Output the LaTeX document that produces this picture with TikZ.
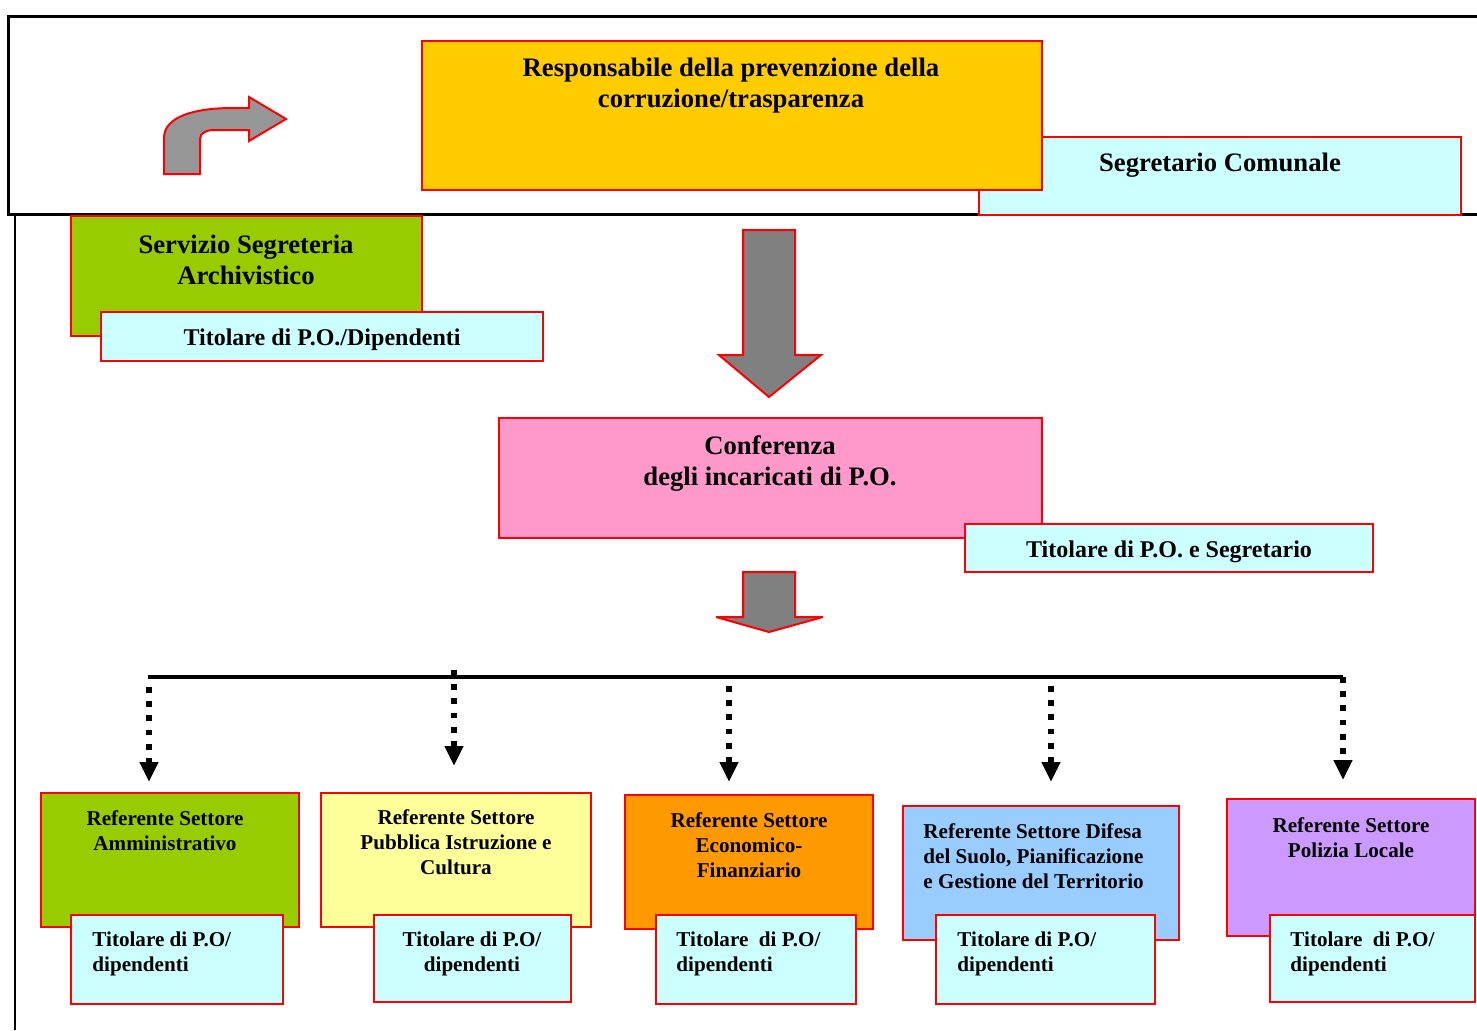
\documentclass[tikz,border=0pt]{standalone}
\usepackage{fontspec}
\setmainfont{Liberation Serif}
\usepackage{xcolor}
\usepackage{tikz}
\usetikzlibrary{shapes,arrows.meta,positioning,calc,fit}

\definecolor{respyellow}{HTML}{FFCC00}
\definecolor{palecyan}{HTML}{CCFFFF}
\definecolor{leafgreen}{HTML}{99CC00}
\definecolor{confpink}{HTML}{FF99CC}
\definecolor{paleyellow}{HTML}{FFFF99}
\definecolor{sectorange}{HTML}{FF9900}
\definecolor{skyblue}{HTML}{99CCFF}
\definecolor{lilac}{HTML}{CC99FF}
\definecolor{arrowgray}{HTML}{808080}
\definecolor{curvegray}{HTML}{969696}

\begin{document}
\begin{tikzpicture}[
    x=0.45pt, y=-0.45pt,
    box/.style={
        rectangle,
        draw=red,
        line width=0.9pt,
        inner sep=0pt
    },
    bigtext/.style={
        font=\fontsize{12}{14}\selectfont\bfseries,
        align=center,
        inner sep=0pt
    },
    midtext/.style={
        font=\fontsize{10.8}{13}\selectfont\bfseries,
        align=center,
        inner sep=0pt
    },
    smalltext/.style={
        font=\fontsize{9.5}{11.2}\selectfont\bfseries,
        align=center,
        inner sep=0pt
    },
    blockarrow/.style={
        draw=red,
        line width=0.9pt,
        fill=arrowgray,
        line join=miter,
        miter limit=4
    },
    branch/.style={
        line width=2.6pt,
        dash pattern=on 2.6pt off 3.8pt,
        -{Triangle[width=8pt,length=9pt]}
    }
]
\useasboundingbox (0,0) rectangle (1477,1030);

% Frame
\draw [line width=1.35pt] (1477,16) -- (8,16) -- (8,214) -- (1477,214);
\draw [line width=1.1pt] (15,214) -- (15,1030);

% Top: responsabile
\node [box, fill=palecyan, fit={(979,137) (1461,215)}] (segr) {};
\node [box, fill=respyellow, fit={(422,41) (1042,190)}] (resp) {};
\node [bigtext] (resptext) at (731,86) {Responsabile della prevenzione della\\corruzione/trasparenza};
\node [bigtext] (segrtext) at (1220,165.5) {Segretario Comunale};

% Curved arrow
\draw [blockarrow, fill=curvegray] (164,174) -- (164,138)
    .. controls (164,116) and (196,108) .. (233,108) -- (249,108) -- (249,97)
    -- (286,119) -- (249,141) -- (249,130) -- (214,130)
    .. controls (206,130) and (200,133) .. (200,139) -- (200,174) -- cycle;

% Servizio segreteria
\node [box, fill=leafgreen, fit={(71,216) (422,336)}] (serv) {};
\node [bigtext] (servtext) at (246,260) {Servizio Segreteria\\Archivistico};
\node [box, fill=palecyan, fit={(101,312) (543,361)}] (servpo) {};
\node [midtext] (servpotext) at (322,340) {Titolare di P.O./Dipendenti};

% Arrows down
\draw [blockarrow] (743,230) -- (795,230) -- (795,355) -- (821,355) -- (769,397)
    -- (719,355) -- (743,355) -- cycle;

% Conferenza
\node [box, fill=confpink, fit={(499,418) (1042,538)}] (conf) {};
\node [bigtext] (conftext) at (770,463.5) {Conferenza\\degli incaricati di P.O.};
\node [box, fill=palecyan, fit={(965,524) (1373,572)}] (confpo) {};
\node [midtext] (confpotext) at (1169,551.5) {Titolare di P.O. e Segretario};

\draw [blockarrow] (743,572) -- (795,572) -- (795,617) -- (823,617) -- (769,632)
    -- (716,617) -- (743,617) -- cycle;

% Bus line
\coordinate (busl) at (148,677);
\coordinate (busr) at (1343,677);
\draw [line width=1.8pt] (busl) -- (busr);

% Settori
\node [box, fill=leafgreen, fit={(41,793) (299,927)}] (amm) {};
\node [smalltext] (ammtext) at (165,830.5) {Referente Settore\\Amministrativo};
\node [box, fill=palecyan, fit={(71,915) (283,1004)}] (ammpo) {};
\node [smalltext, align=left, anchor=west] (ammpotext) at (92,953.5) {Titolare di P.O/\\dipendenti};

\node [box, fill=paleyellow, fit={(321,793) (591,927)}] (pubb) {};
\node [smalltext] (pubbtext) at (456,842.5) {Referente Settore\\Pubblica Istruzione e\\Cultura};
\node [box, fill=palecyan, fit={(374,915) (571,1002)}] (pubbpo) {};
\node [smalltext] (pubbpotext) at (472,953.5) {Titolare di P.O/\\dipendenti};

\node [box, fill=sectorange, fit={(625,795) (873,929)}] (econ) {};
\node [smalltext] (econtext) at (749,845) {Referente Settore\\Economico-\\Finanziario};
\node [box, fill=palecyan, fit={(656,915) (856,1004)}] (econpo) {};
\node [smalltext, align=left, anchor=west] (econpotext) at (676,953.5) {Titolare\ \ di P.O/\\dipendenti};

\node [box, fill=skyblue, fit={(903,806) (1179,940)}] (suolo) {};
\node [smalltext, align=left, anchor=west] (suolotext) at (923,856.5) {Referente Settore Difesa\\del Suolo, Pianificazione\\e Gestione del Territorio};
\node [box, fill=palecyan, fit={(936,915) (1155,1004)}] (suolopo) {};
\node [smalltext, align=left, anchor=west] (suolopotext) at (957,953.5) {Titolare di P.O/\\dipendenti};

\node [box, fill=lilac, fit={(1227,799) (1475,936)}] (poliz) {};
\node [smalltext] (poliztext) at (1351,837.5) {Referente Settore\\Polizia Locale};
\node [box, fill=palecyan, fit={(1270,915) (1475,1002)}] (polizpo) {};
\node [smalltext, align=left, anchor=west] (polizpotext) at (1290,953.5) {Titolare\ \ di P.O/\\dipendenti};

% Dotted branches
\coordinate (amma) at (149,687);
\coordinate (ammb) at (149,782);
\coordinate (pubba) at (454,670);
\coordinate (pubbb) at (454,766);
\coordinate (econa) at (729,686);
\coordinate (econb) at (729,782);
\coordinate (suoloa) at (1051,686);
\coordinate (suolob) at (1051,782);
\coordinate (poliza) at (1343,677);
\coordinate (polizb) at (1343,780);
\draw [branch] (amma) -- (ammb);
\draw [branch] (pubba) -- (pubbb);
\draw [branch] (econa) -- (econb);
\draw [branch] (suoloa) -- (suolob);
\draw [branch] (poliza) -- (polizb);

\end{tikzpicture}
\end{document}
